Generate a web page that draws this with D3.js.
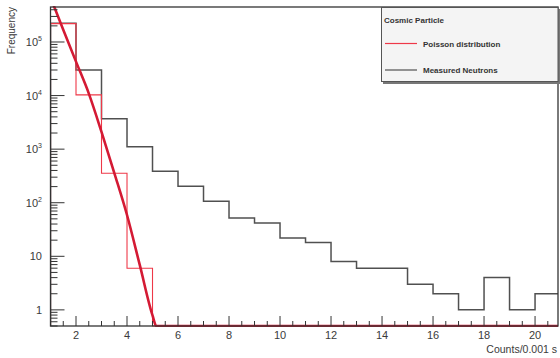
<!DOCTYPE html>
<html>
<head>
<meta charset="utf-8">
<script src="https://cdn.jsdelivr.net/npm/d3@7"></script>
<style>
  body { margin: 0; background: #fff; }
  svg { display: block; font-family: "Liberation Sans", Arial, sans-serif; }
</style>
</head>
<body>
<svg id="chart" width="560" height="358"></svg>
<script>
// bin low edges (bin width = 1 count)
const binLow = [1, 2, 3, 4, 5, 6, 7, 8, 9, 10, 11, 12, 13, 14, 15, 16, 17, 18, 19, 20];
// measured neutrons, entries per bin
const measured = [225000, 30000, 3700, 1110, 385, 202, 106, 52, 42, 22, 18, 8, 6, 6, 3, 2, 1, 4, 1, 2];
// poisson histogram, entries per bin (0 = below the axis)
const poisson = [220000, 10300, 354, 6, 0, 0, 0, 0, 0, 0, 0, 0, 0, 0, 0, 0, 0, 0, 0, 0];
// poisson curve, points
const fitX = [1.0, 1.5, 2.0, 2.5, 3.0, 3.5, 4.0, 4.5, 5.0, 5.15, 5.2, 20.9];
const fitY = [680000, 170000, 43000, 11000, 2100, 362, 59, 6.9, 0.79, 0.42, 0.4, 0.4];

const xMajor = [2, 4, 6, 8, 10, 12, 14, 16, 18, 20];
const yMajor = [1, 10, 100, 1000, 10000, 100000];
const yLabels = ["1", "10", "10|2", "10|3", "10|4", "10|5"];

const svg = d3.select("#chart");
const padL = 50.5, padR = 558, padT = 7, padB = 326;
const yMin = 0.5, yMax = 450000;

const x = d3.scaleLinear().domain([1, 20.9]).range([padL, padR]);
const y = d3.scaleLog().domain([yMin, yMax]).range([padB, padT]);
// values under the axis minimum are drawn on the bottom of the frame (ROOT style)
const yFloor = v => y(Math.max(v, yMin));

svg.append("defs").append("clipPath").attr("id", "frame")
   .append("rect").attr("x", padL).attr("y", padT - 1)
   .attr("width", padR - padL).attr("height", padB - padT + 2);

// step outline of a histogram, like ROOT's HIST option
function stepPath(vals) {
    let pts = [[x(binLow[0]), yFloor(0)]];
    vals.forEach((v, i) => {
        const yy = yFloor(v);
        pts.push([x(binLow[i]), yy]);
        pts.push([x(binLow[i] + 1), yy]);
    });
    return d3.line()(pts);
}

const plot = svg.append("g").attr("clip-path", "url(#frame)");

plot.append("path")
    .attr("d", stepPath(measured))
    .attr("fill", "none")
    .attr("stroke", "#505050")
    .attr("stroke-width", 1.5);

plot.append("path")
    .attr("d", stepPath(poisson))
    .attr("fill", "none")
    .attr("stroke", "#ee3848")
    .attr("stroke-width", 1.1);

// frame
svg.append("rect")
   .attr("x", padL).attr("y", padT)
   .attr("width", padR - padL).attr("height", padB - padT)
   .attr("fill", "none").attr("stroke", "#333").attr("stroke-width", 1.3);

// x axis ticks (inside, pointing up)
const xMinor = d3.range(1.5, 20.9, 0.5).filter(v => v % 2 !== 0);
svg.append("g").selectAll("line").data(xMinor).enter().append("line")
   .attr("x1", d => x(d)).attr("x2", d => x(d))
   .attr("y1", padB).attr("y2", padB - 5)
   .attr("stroke", "#333").attr("stroke-width", 1);
svg.append("g").selectAll("line").data(xMajor).enter().append("line")
   .attr("x1", d => x(d)).attr("x2", d => x(d))
   .attr("y1", padB).attr("y2", padB - 10)
   .attr("stroke", "#333").attr("stroke-width", 1);
svg.append("g").selectAll("text").data(xMajor).enter().append("text")
   .attr("x", d => x(d)).attr("y", 339)
   .attr("text-anchor", "middle")
   .attr("font-size", 11).attr("fill", "#3a3a3a")
   .text(d => d);

// y axis ticks (inside, pointing right)
const yMinor = [];
[0.1, 1, 10, 100, 1000, 10000, 100000].forEach(dec => {
    [2, 3, 4, 5, 6, 7, 8, 9].forEach(m => {
        const v = dec * m;
        if (v >= yMin && v <= yMax) yMinor.push(v);
    });
});
svg.append("g").selectAll("line").data(yMinor).enter().append("line")
   .attr("x1", padL).attr("x2", padL + 7)
   .attr("y1", d => y(d)).attr("y2", d => y(d))
   .attr("stroke", "#333").attr("stroke-width", 1);
svg.append("g").selectAll("line").data(yMajor).enter().append("line")
   .attr("x1", padL).attr("x2", padL + 14)
   .attr("y1", d => y(d)).attr("y2", d => y(d))
   .attr("stroke", "#333").attr("stroke-width", 1);

const yl = svg.append("g").selectAll("text").data(yMajor).enter().append("text")
   .attr("x", 42).attr("y", d => y(d) + 4)
   .attr("text-anchor", "end")
   .attr("font-size", 11).attr("fill", "#3a3a3a");
yl.each(function(d, i) {
    const parts = yLabels[i].split("|");
    const t = d3.select(this);
    t.append("tspan").text(parts[0]);
    if (parts[1]) {
        t.append("tspan").attr("dy", -5).attr("font-size", 7).text(parts[1]);
    }
});

// poisson curve, thick red, drawn over the axes like ROOT
const fitPts = fitX.map((v, i) => [x(v), yFloor(fitY[i])]);
plot.append("path")
    .attr("d", d3.line().curve(d3.curveMonotoneX)(fitPts))
    .attr("fill", "none")
    .attr("stroke", "#d41a34")
    .attr("stroke-width", 2.6);

// axis titles
svg.append("text")
   .attr("x", 557).attr("y", 353)
   .attr("text-anchor", "end")
   .attr("font-size", 10.5).attr("fill", "#3a3a3a")
   .text("Counts/0.001 s");
svg.append("text")
   .attr("transform", "translate(15,7) rotate(-90)")
   .attr("text-anchor", "end")
   .attr("font-size", 10).attr("fill", "#3a3a3a")
   .text("Frequency");

// legend
const lg = svg.append("g");
lg.append("rect")
  .attr("x", 383).attr("y", 9).attr("width", 177).attr("height", 75)
  .attr("fill", "#777");
lg.append("rect")
  .attr("x", 381.5).attr("y", 7.5).attr("width", 176.5).attr("height", 74)
  .attr("fill", "#f4f4f4").attr("stroke", "#555").attr("stroke-width", 1);
lg.append("text")
  .attr("x", 384).attr("y", 23)
  .attr("font-size", 8).attr("font-weight", "bold").attr("fill", "#333")
  .text("Cosmic Particle");

const legendItems = [
    {label: "Poisson distribution", color: "#ee3848", yy: 43.5},
    {label: "Measured Neutrons", color: "#505050", yy: 70}
];
legendItems.forEach(item => {
    lg.append("line")
      .attr("x1", 385).attr("x2", 417)
      .attr("y1", item.yy).attr("y2", item.yy)
      .attr("stroke", item.color).attr("stroke-width", 1.2);
    lg.append("text")
      .attr("x", 423).attr("y", item.yy + 3)
      .attr("font-size", 8).attr("font-weight", "bold").attr("fill", "#333")
      .text(item.label);
});
</script>
</body>
</html>
